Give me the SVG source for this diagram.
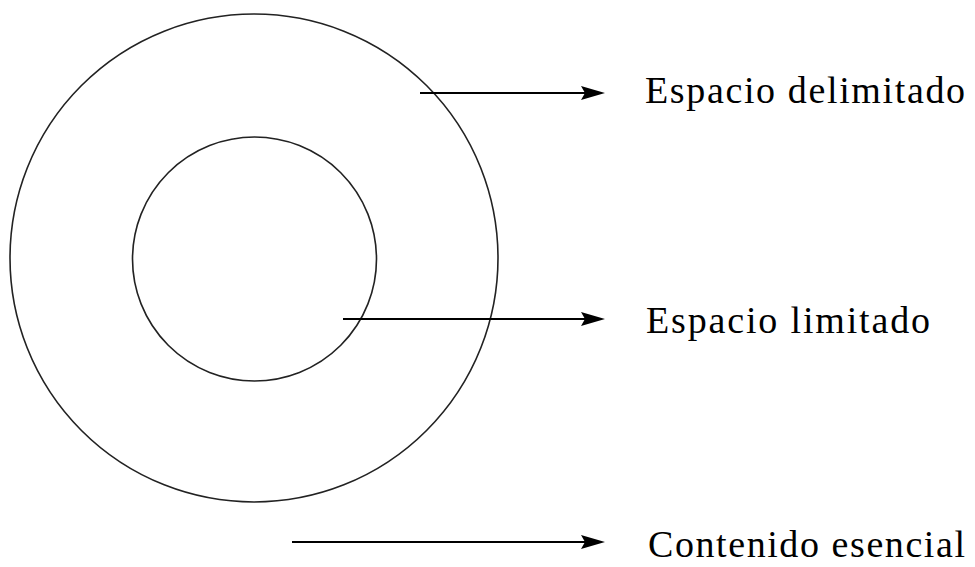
<svg xmlns="http://www.w3.org/2000/svg" width="975" height="567" viewBox="0 0 975 567">
<style>
.c{fill:none;stroke:#222;stroke-width:1.6}
.l{stroke:#000;stroke-width:2.2;fill:none}
.h{fill:#000}
.t{font-family:"Liberation Serif","Times New Roman",serif;font-size:38px;fill:#000}
</style>
<rect width="975" height="567" fill="#fff"/>
<g id="outer"><circle class="c" cx="254" cy="258" r="244"/></g>
<g id="inner"><circle class="c" cx="254.5" cy="259" r="122"/></g>
<g id="connectors">
<line class="l" x1="420" y1="93" x2="586" y2="93"/>
<polygon class="h" points="581,86 605,93 581,100 585,93"/>
<line class="l" x1="343" y1="319" x2="586" y2="319"/>
<polygon class="h" points="581,312 605,319 581,326 585,319"/>
<line class="l" x1="292" y1="542" x2="586" y2="542"/>
<polygon class="h" points="581,535 605,542 581,549 585,542"/>
</g>
<g id="label1"><text class="t" x="645" y="103" textLength="320" lengthAdjust="spacing">Espacio delimitado</text></g>
<g id="label2"><text class="t" x="646" y="333" textLength="284" lengthAdjust="spacing">Espacio limitado</text></g>
<g id="label3"><text class="t" x="648" y="557" textLength="317" lengthAdjust="spacing">Contenido esencial</text></g>
</svg>
